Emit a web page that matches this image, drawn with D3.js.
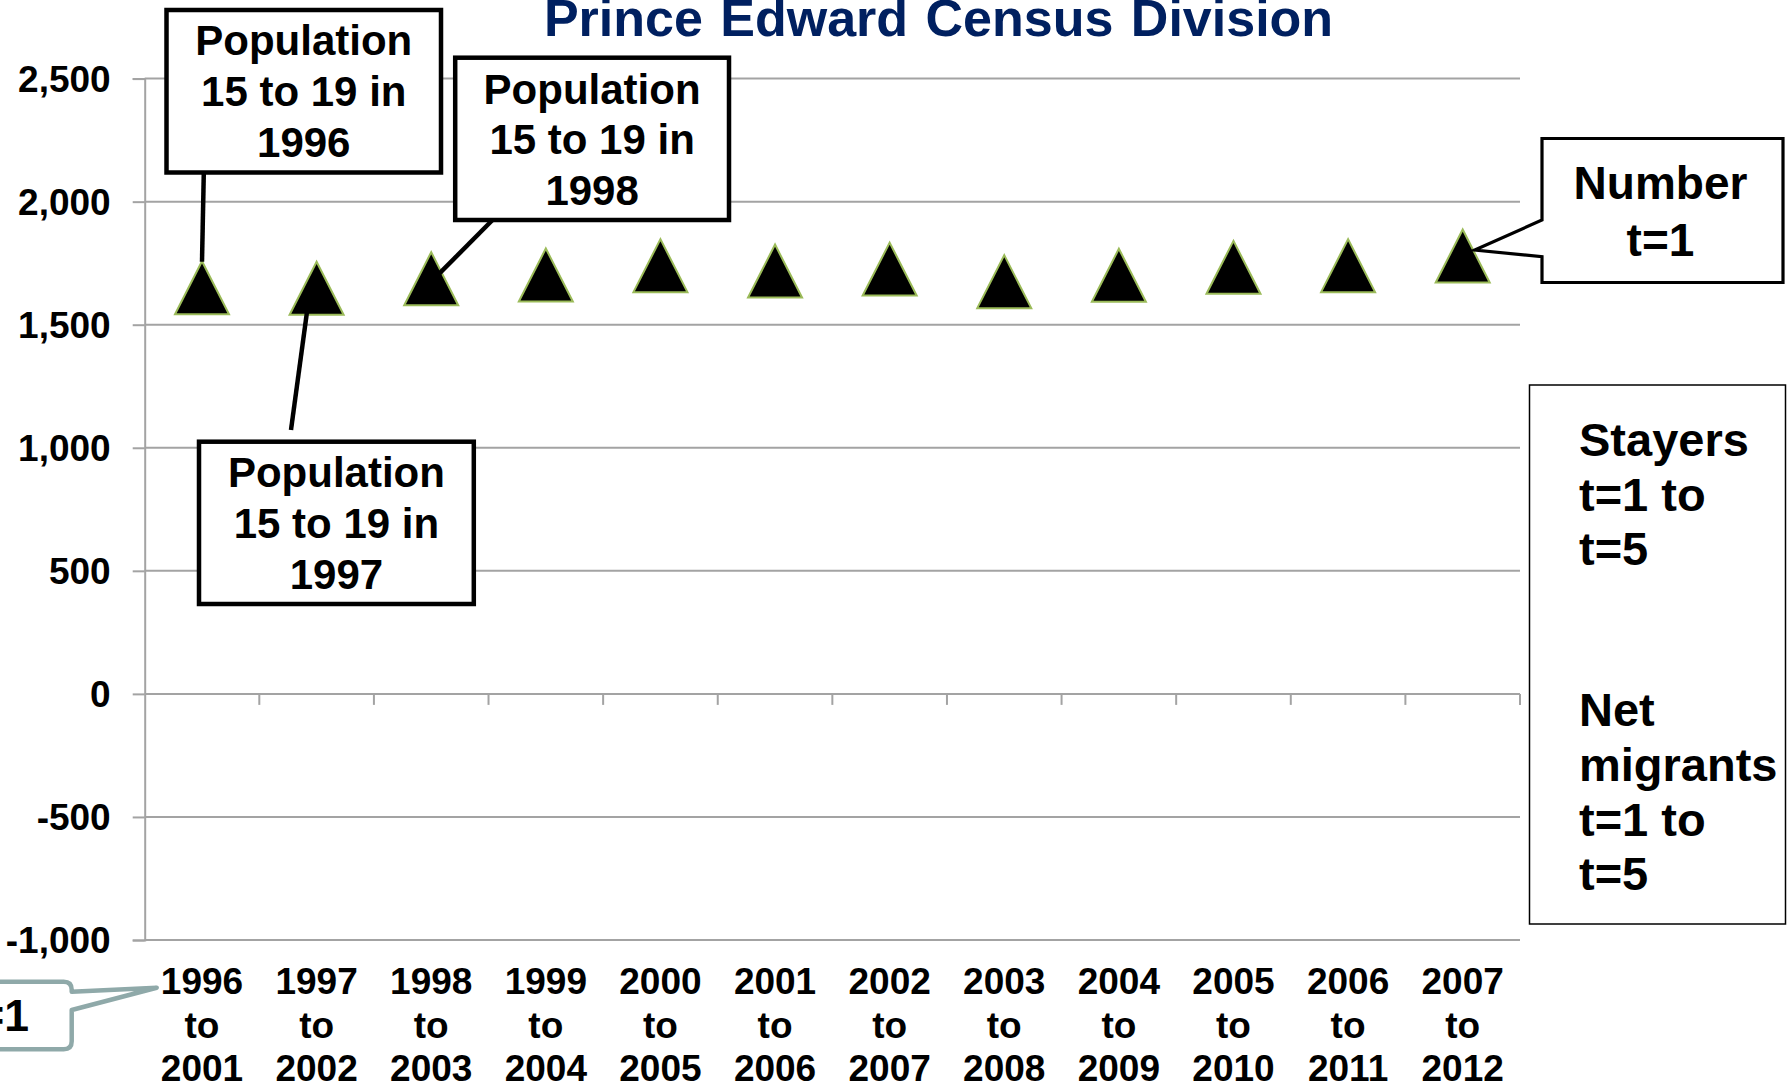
<!DOCTYPE html>
<html>
<head>
<meta charset="utf-8">
<script src="https://cdn.jsdelivr.net/npm/d3@7"></script>
<style>
  html, body { margin: 0; padding: 0; background: #ffffff; }
  svg { display: block; font-family: "Liberation Sans", Arial, sans-serif; }
</style>
</head>
<body>
<svg id="chart" width="1787" height="1085"></svg>
<script>
// ---- data ----
const categories = ["1996 to 2001", "1997 to 2002", "1998 to 2003", "1999 to 2004", "2000 to 2005", "2001 to 2006",
                    "2002 to 2007", "2003 to 2008", "2004 to 2009", "2005 to 2010", "2006 to 2011", "2007 to 2012"];
const numberT1 = [1650, 1648, 1687, 1702, 1740, 1718, 1726, 1675, 1701, 1733, 1740, 1779];
const yTicks = [-1000, -500, 0, 500, 1000, 1500, 2000, 2500];
const title = "Prince Edward Census Division";
const calloutTexts = [
  ["Population", "15 to 19 in", "1996"],
  ["Population", "15 to 19 in", "1997"],
  ["Population", "15 to 19 in", "1998"]
];
const numberLabel = ["Number", "t=1"];
const sideLabel = ["Stayers", "t=1 to", "t=5", "", "Net", "migrants", "t=1 to", "t=5"];

// ---- layout ----
const svg = d3.select("#chart");
const plot = { left: 144.7, right: 1520, top: 78.6, bottom: 940 };

const x = d3.scaleBand().domain(categories).range([plot.left, plot.right]).padding(0);
const y = d3.scaleLinear().domain([-1000, 2500]).range([plot.bottom, plot.top]);

const gridColor = "#a3a3a3";
const fmt = d => d3.format(",")(d).replace("\u2212", "-");

// title
svg.append("text")
  .attr("x", 938.5).attr("y", 36)
  .attr("text-anchor", "middle")
  .attr("font-size", 52).attr("font-weight", "bold")
  .attr("word-spacing", 3)
  .attr("fill", "#002060")
  .text(title);

// gridlines + y axis
const yAxis = d3.axisLeft(y).tickValues(yTicks).tickSize(12).tickFormat(fmt).tickPadding(22);
const gy = svg.append("g").attr("transform", `translate(${plot.left},0)`).call(yAxis);
gy.select(".domain").attr("stroke", gridColor).attr("stroke-width", 2);
gy.selectAll(".tick line").attr("stroke", gridColor).attr("stroke-width", 2);
gy.selectAll(".tick text")
  .attr("font-size", 37).attr("font-weight", "bold").attr("fill", "#000")
  .attr("font-family", "'Liberation Sans', Arial, sans-serif")
  .attr("dy", "0.35em");

svg.append("g").selectAll("line").data(yTicks).join("line")
  .attr("x1", plot.left).attr("x2", plot.right)
  .attr("y1", d => y(d)).attr("y2", d => y(d))
  .attr("stroke", gridColor).attr("stroke-width", 2);

// x axis at zero with ticks at category boundaries
const boundaries = categories.map(c => x(c) + x.bandwidth());
svg.append("g").selectAll("line").data(boundaries).join("line")
  .attr("x1", d => d).attr("x2", d => d)
  .attr("y1", y(0)).attr("y2", y(0) + 11)
  .attr("stroke", gridColor).attr("stroke-width", 2);

// category labels (three lines)
const catG = svg.append("g");
categories.forEach(c => {
  const parts = [c.slice(0, 4), "to", c.slice(8)];
  const t = catG.append("text")
    .attr("text-anchor", "middle")
    .attr("font-size", 37).attr("font-weight", "bold").attr("fill", "#000");
  parts.forEach((p, i) => {
    t.append("tspan").attr("x", x(c) + x.bandwidth() / 2).attr("y", 994 + i * 43.5).text(p);
  });
});

// triangles
const triW = 27, triH = 26.5;
svg.append("g").selectAll("path").data(numberT1).join("path")
  .attr("d", (d, i) => {
    const cx = x(categories[i]) + x.bandwidth() / 2, cy = y(d);
    return `M${cx},${cy - triH}L${cx + triW},${cy + triH}L${cx - triW},${cy + triH}Z`;
  })
  .attr("fill", "#000")
  .attr("stroke", "#9bbb59").attr("stroke-width", 2);

const px = i => x(categories[i]) + x.bandwidth() / 2;
const py = i => y(numberT1[i]);

// callouts: boxes with leader lines
const callouts = [
  { box: [166.5, 10, 274.5, 162.5], from: [203.8, 172.7], to: [px(0), py(0) - 26], base: 55 },
  { box: [199, 441.7, 274.8, 162.3], from: [291, 430], to: [px(1) - 9, py(1) + 19], base: 487 },
  { box: [455.2, 57.7, 273.8, 162.3], from: [492.5, 220], to: [px(2) + 8, py(2) - 5], base: 103.5 }
];
callouts.forEach((c, i) => {
  svg.append("line")
    .attr("x1", c.from[0]).attr("y1", c.from[1]).attr("x2", c.to[0]).attr("y2", c.to[1])
    .attr("stroke", "#000").attr("stroke-width", 4.5);
  svg.append("rect")
    .attr("x", c.box[0]).attr("y", c.box[1]).attr("width", c.box[2]).attr("height", c.box[3])
    .attr("fill", "#fff").attr("stroke", "#000").attr("stroke-width", 4.5);
  const t = svg.append("text").attr("text-anchor", "middle")
    .attr("font-size", 42).attr("font-weight", "bold").attr("fill", "#000");
  calloutTexts[i].forEach((s, k) => {
    t.append("tspan").attr("x", c.box[0] + c.box[2] / 2).attr("y", c.base + k * 50.8).text(s);
  });
});

// "Number t=1" callout with wedge pointer
{
  const L = 1542, T = 138.5, R = 1783, B = 282.5;
  const ax = px(11) + 12, ay = py(11) - 6;
  svg.append("path")
    .attr("d", `M${L},${T}H${R}V${B}H${L}V256.7L${ax},${ay}L${L},220Z`)
    .attr("fill", "#fff").attr("stroke", "#000").attr("stroke-width", 3.2).attr("stroke-linejoin", "miter");
  const t = svg.append("text").attr("text-anchor", "middle")
    .attr("font-size", 46).attr("font-weight", "bold").attr("fill", "#000");
  numberLabel.forEach((s, k) => {
    t.append("tspan").attr("x", (L + R) / 2 - 2).attr("y", 199 + k * 57).text(s);
  });
}

// Stayers / Net migrants box
{
  svg.append("rect")
    .attr("x", 1529.5).attr("y", 385).attr("width", 256).attr("height", 539)
    .attr("fill", "#fff").attr("stroke", "#000").attr("stroke-width", 1.5);
  const t = svg.append("text").attr("font-size", 47).attr("font-weight", "bold").attr("fill", "#000");
  const baselines = [456, 511, 565, null, 726, 781, 835.5, 890];
  sideLabel.forEach((s, k) => {
    if (!s) return;
    t.append("tspan").attr("x", 1579).attr("y", baselines[k]).text(s);
  });
}

// partially visible bottom-left callout
{
  const R = 71.7, T = 981.7, B = 1049.3, r = 8;
  const ax = x(categories[0]) + 12, ay = 987.7;
  svg.append("path")
    .attr("d", `M-20,${T}H${R - r}Q${R},${T} ${R},${T + r}V991.7L${ax},${ay}L${R},1010V${B - r}Q${R},${B} ${R - r},${B}H-20Z`)
    .attr("fill", "#fff").attr("stroke", "#8fa9a9").attr("stroke-width", 4.5).attr("stroke-linejoin", "round");
  svg.append("text").attr("x", 29).attr("y", 1031)
    .attr("text-anchor", "end")
    .attr("font-size", 44.5).attr("font-weight", "bold").attr("fill", "#000")
    .text("t=1");
}
</script>
</body>
</html>
